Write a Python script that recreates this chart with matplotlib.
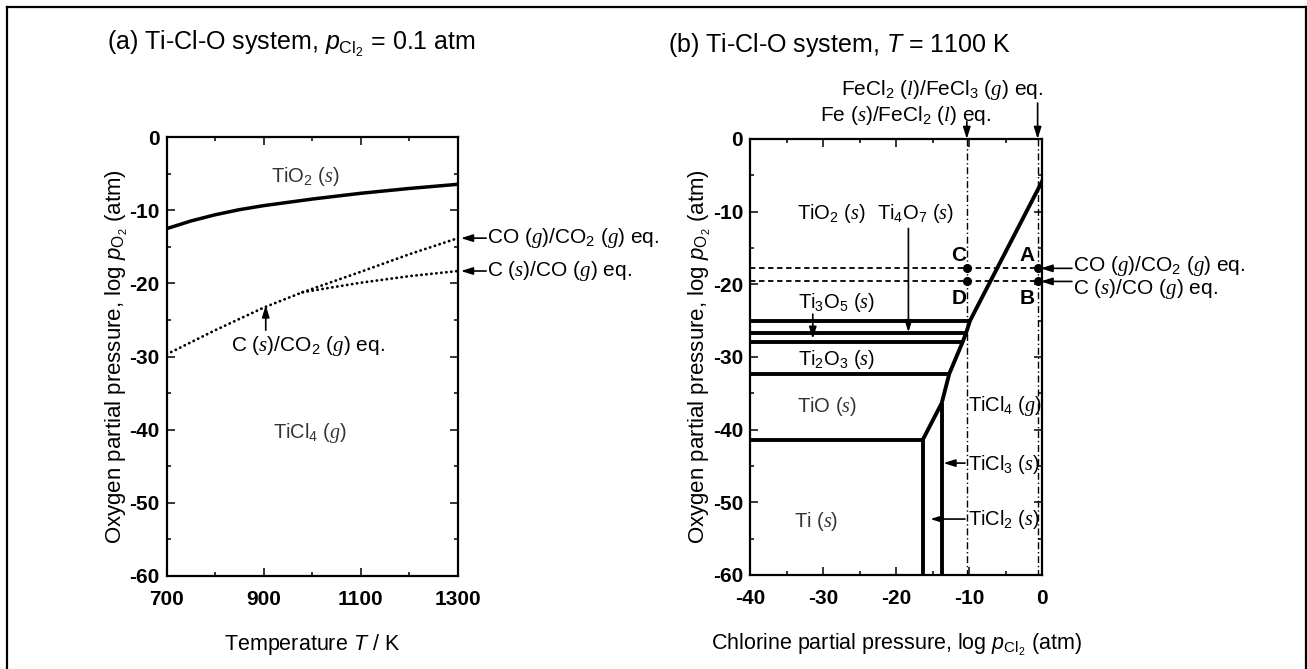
import matplotlib
matplotlib.use('Agg')
import matplotlib.pyplot as plt
from matplotlib.lines import Line2D

plt.rcParams.update({
    'font.family': ['Liberation Sans', 'DejaVu Sans'],
    'mathtext.fontset': 'custom',
    'mathtext.rm': 'Liberation Sans',
    'mathtext.it': 'Liberation Sans:italic',
    'mathtext.bf': 'Liberation Sans:bold',
    'mathtext.sf': 'Liberation Serif:italic',
    'axes.unicode_minus': False,
})

# ---------------- data : panel (a) ----------------
T_tio2 = [700, 750, 800, 850, 900, 950, 1000, 1100, 1200, 1300]
logpO2_tio2 = [-12.5, -11.45, -10.6, -9.9, -9.35, -8.9, -8.45, -7.66, -7.0, -6.43]

T_c_co2 = [700, 800, 900, 980]
logpO2_c_co2 = [-29.7, -26.4, -23.3, -21.2]

T_co_co2 = [980, 1100, 1200, 1300]
logpO2_co_co2 = [-21.2, -18.4, -16.0, -13.8]

T_c_co = [980, 1100, 1200, 1300]
logpO2_c_co = [-21.2, -19.9, -19.0, -18.3]

xticks_a = [700, 900, 1100, 1300]
xminor_a = [800, 1000, 1200]
yticks = [0, -10, -20, -30, -40, -50, -60]
yminor = [-5, -15, -25, -35, -45, -55]

# ---------------- data : panel (b) ----------------
pcl2_ticl4 = [0.0, -9.86, -10.4, -10.86, -12.7, -13.74, -16.34]
po2_ticl4 = [-5.85, -25.0, -26.7, -27.9, -32.3, -36.35, -41.4]
po2_oxide_levels = [-25.0, -26.7, -27.9, -32.3, -41.4]
pcl2_oxide_ends = [-9.86, -10.4, -10.86, -12.7, -16.34]
pcl2_chloride = [-16.34, -13.74]
po2_chloride_top = [-41.4, -36.35]
pcl2_fe_fecl2 = -10.3
pcl2_fecl2_fecl3 = -0.6
po2_co_co2 = -17.8
po2_c_co = -19.6

xticks_b = [-40, -30, -20, -10, 0]
xminor_b = [-35, -25, -15, -5]

W, H = 1307, 669
fig = plt.figure(figsize=(W / 100, H / 100), dpi=100)
axA = fig.add_axes([166.7 / W, 1 - 575.7 / H, 291.3 / W, 438.4 / H])
axB = fig.add_axes([750 / W, 1 - 575 / H, 292 / W, 436 / H])

TICKFS = 15
XLABFS = 15.5
YLABFS = 16
SPFS = 14.5
ANFS = 15
TITFS = 18


def style(ax, xt, xm, xlim):
    ax.set_xlim(*xlim)
    ax.set_ylim(-60, 0)
    ax.set_xticks(xt)
    ax.set_xticklabels([str(v) for v in xt], fontweight='bold', fontsize=TICKFS)
    ax.set_xticks(xm, minor=True)
    ax.set_yticks(yticks)
    ax.set_yticklabels([str(v) for v in yticks], fontweight='bold', fontsize=TICKFS)
    ax.set_yticks(yminor, minor=True)
    ax.tick_params(which='both', direction='in', top=True, right=True, width=1.1)
    ax.tick_params(which='major', length=6)
    ax.tick_params(which='minor', length=3)
    ax.tick_params(axis='x', which='major', pad=10)
    ax.tick_params(axis='y', which='major', pad=5)
    for s in ax.spines.values():
        s.set_linewidth(1.6)


style(axA, xticks_a, xminor_a, (700, 1300))
style(axB, xticks_b, xminor_b, (-40, 0))

ARW = dict(arrowstyle='-|>,head_length=0.7,head_width=0.22', color='k', lw=1.2,
           shrinkA=0, shrinkB=0)


def arrow(ax, tip, tail):
    ax.annotate('', xy=tip, xytext=tail, arrowprops=ARW, annotation_clip=False)


# ---------------- panel (a) ----------------
axA.plot(T_tio2, logpO2_tio2, color='k', lw=2.5, solid_capstyle='butt')
dot = dict(color='k', lw=2.0, linestyle=(0, (0.1, 1.7)), dash_capstyle='round')
axA.plot(T_c_co2, logpO2_c_co2, **dot)
axA.plot(T_co_co2, logpO2_co_co2, **dot)
axA.plot(T_c_co, logpO2_c_co, **dot)

axA.text(985, -5.4, r'TiO$_2$ ($\mathsf{s}$)', ha='center', va='center', fontsize=SPFS, color='#333333')
axA.text(995, -40.5, r'TiCl$_4$ ($\mathsf{g}$)', ha='center', va='center', fontsize=SPFS, color='#333333')
axA.text(991, -28.6, r'C ($\mathsf{s}$)/CO$_2$ ($\mathsf{g}$) eq.', ha='center', va='center', fontsize=ANFS)
arrow(axA, (904, -23.0), (904, -26.4))
arrow(axA, (1306, -13.8), (1358, -13.8))
axA.text(1360, -13.8, r'CO ($\mathsf{g}$)/CO$_2$ ($\mathsf{g}$) eq.', ha='left', va='center',
         fontsize=ANFS, clip_on=False)
arrow(axA, (1306, -18.3), (1358, -18.3))
axA.text(1360, -18.3, r'C ($\mathsf{s}$)/CO ($\mathsf{g}$) eq.', ha='left', va='center',
         fontsize=ANFS, clip_on=False)

axA.set_xlabel(r'Temperature $T$ / K', fontsize=XLABFS)
axA.xaxis.set_label_coords(0.5, -0.128)
axA.set_ylabel(r'Oxygen partial pressure, log $p_{\mathrm{O}_2}$ (atm)', fontsize=YLABFS)
axA.yaxis.set_label_coords(-0.126, 0.5)
fig.text(107 / W, 1 - 44 / H, r'(a) Ti-Cl-O system, $p_{\mathrm{Cl}_2}$ = 0.1 atm',
         ha='left', va='center', fontsize=TITFS)

# ---------------- panel (b) ----------------
LW = 2.8
axB.plot(pcl2_ticl4, po2_ticl4, color='k', lw=LW, solid_joinstyle='miter')
for y, xe in zip(po2_oxide_levels, pcl2_oxide_ends):
    axB.plot([-40, xe], [y, y], color='k', lw=LW, solid_capstyle='butt')
for x, yt in zip(pcl2_chloride, po2_chloride_top):
    axB.plot([x, x], [yt, -60], color='k', lw=LW, solid_capstyle='butt')

dashdot = dict(color='k', lw=1.0, linestyle=(0, (5, 2, 1, 2)))
axB.plot([pcl2_fe_fecl2, pcl2_fe_fecl2], [0, -60], **dashdot)
axB.plot([pcl2_fecl2_fecl3, pcl2_fecl2_fecl3], [0, -60], **dashdot)
dashed = dict(color='k', lw=1.3, linestyle=(0, (3, 2)))
axB.plot([-40, pcl2_fecl2_fecl3], [po2_co_co2, po2_co_co2], **dashed)
axB.plot([-40, pcl2_fecl2_fecl3], [po2_c_co, po2_c_co], **dashed)

pts_x = [pcl2_fecl2_fecl3, pcl2_fecl2_fecl3, pcl2_fe_fecl2, pcl2_fe_fecl2]
pts_y = [po2_co_co2, po2_c_co, po2_co_co2, po2_c_co]
axB.plot(pts_x, pts_y, 'o', color='k', ms=5.5, clip_on=False, zorder=5)
for lab, x, y in [('A', -2.05, -16.0), ('B', -2.05, -22.0), ('C', -11.4, -16.0), ('D', -11.4, -22.0)]:
    axB.text(x, y, lab, ha='center', va='center', fontsize=ANFS, fontweight='bold')

axB.text(-28.9, -10.3, r'TiO$_2$ ($\mathsf{s}$)', ha='center', va='center', fontsize=SPFS)
axB.text(-17.3, -10.3, r'Ti$_4$O$_7$ ($\mathsf{s}$)', ha='center', va='center', fontsize=SPFS)
arrow(axB, (-18.3, -26.6), (-18.3, -12.3))
axB.text(-28.1, -22.5, r'Ti$_3$O$_5$ ($\mathsf{s}$)', ha='center', va='center', fontsize=SPFS)
arrow(axB, (-31.4, -27.5), (-31.4, -24.1))
axB.text(-28.2, -30.3, r'Ti$_2$O$_3$ ($\mathsf{s}$)', ha='center', va='center', fontsize=SPFS)
axB.text(-29.5, -36.8, r'TiO ($\mathsf{s}$)', ha='center', va='center', fontsize=SPFS, color='#333333')
axB.text(-30.9, -52.6, r'Ti ($\mathsf{s}$)', ha='center', va='center', fontsize=SPFS, color='#333333')
axB.text(-10.2, -36.8, r'TiCl$_4$ ($\mathsf{g}$)', ha='left', va='center', fontsize=SPFS)
axB.text(-10.2, -44.8, r'TiCl$_3$ ($\mathsf{s}$)', ha='left', va='center', fontsize=SPFS)
arrow(axB, (-13.5, -44.6), (-10.55, -44.6))
axB.text(-10.2, -52.4, r'TiCl$_2$ ($\mathsf{s}$)', ha='left', va='center', fontsize=SPFS)
arrow(axB, (-15.3, -52.3), (-10.55, -52.3))

arrow(axB, (-0.2, po2_co_co2), (4.1, po2_co_co2))
axB.text(4.2, -17.5, r'CO ($\mathsf{g}$)/CO$_2$ ($\mathsf{g}$) eq.', ha='left', va='center',
         fontsize=ANFS, clip_on=False)
arrow(axB, (-0.2, po2_c_co), (4.1, po2_c_co))
axB.text(4.2, -20.7, r'C ($\mathsf{s}$)/CO ($\mathsf{g}$) eq.', ha='left', va='center',
         fontsize=ANFS, clip_on=False)

axB.text(0.14, 6.74, r'FeCl$_2$ ($\mathsf{l}$)/FeCl$_3$ ($\mathsf{g}$) eq.', ha='right', va='center',
         fontsize=ANFS, clip_on=False)
axB.text(-7.0, 3.3, r'Fe ($\mathsf{s}$)/FeCl$_2$ ($\mathsf{l}$) eq.', ha='right', va='center',
         fontsize=ANFS, clip_on=False)
arrow(axB, (pcl2_fecl2_fecl3, 0), (pcl2_fecl2_fecl3, 4.95))
arrow(axB, (pcl2_fe_fecl2, 0), (pcl2_fe_fecl2, 2.4))

axB.set_xlabel(r'Chlorine partial pressure, log $p_{\mathrm{Cl}_2}$ (atm)', fontsize=XLABFS)
axB.xaxis.set_label_coords(0.5, -0.13)
axB.set_ylabel(r'Oxygen partial pressure, log $p_{\mathrm{O}_2}$ (atm)', fontsize=YLABFS)
axB.yaxis.set_label_coords(-0.127, 0.5)
fig.text(668 / W, 1 - 45 / H, r'(b) Ti-Cl-O system, $T$ = 1100 K',
         ha='left', va='center', fontsize=TITFS)

fx0, fy1, fx1 = 7 / W, 1 - 7 / H, 1305.5 / W
fig.add_artist(Line2D([fx0, fx0], [0, fy1], color='k', lw=1.6, transform=fig.transFigure))
fig.add_artist(Line2D([fx0, fx1], [fy1, fy1], color='k', lw=1.6, transform=fig.transFigure))
fig.add_artist(Line2D([fx1, fx1], [0, fy1], color='k', lw=1.6, transform=fig.transFigure))

fig.savefig('out.png', dpi=100)
